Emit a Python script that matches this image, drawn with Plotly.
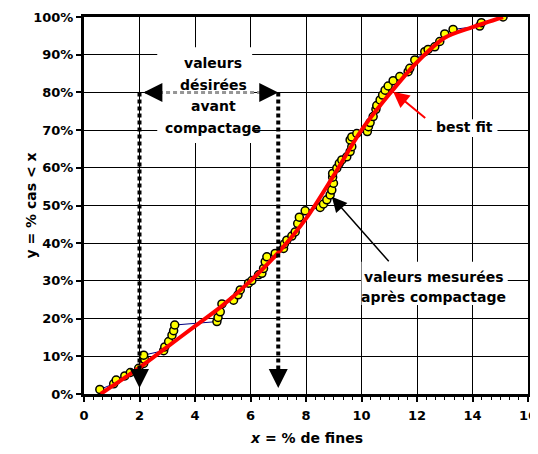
import plotly.graph_objects as go

# Measured values (after compaction): x = % fines, y = cumulative % of cases
meas_x = [0.57, 1.07, 1.16, 1.47, 1.67, 1.97, 2.15, 2.18, 2.15, 2.87, 2.91, 3.05, 3.17, 3.23, 3.27,
          4.79, 4.83, 4.91, 4.97, 5.39, 5.55, 5.63, 5.93, 6.05, 6.29, 6.41, 6.47, 6.53, 6.59, 6.89,
          7.19, 7.22, 7.31, 7.49, 7.61, 7.70, 7.76, 7.97, 8.51, 8.63, 8.75, 8.87, 8.93, 8.99, 8.96,
          8.96, 9.11, 9.20, 9.29, 9.47, 9.59, 9.65, 9.59, 9.65, 9.83, 10.21, 10.25, 10.31, 10.42, 10.52,
          10.55, 10.67, 10.76, 10.85, 10.96, 11.14, 11.38, 11.68, 11.74, 11.92, 12.28, 12.40, 12.64, 12.82,
          13.00, 13.30, 14.26, 14.32, 15.10]
meas_y = [1.2, 2.7, 3.7, 4.8, 5.7, 6.8, 8.1, 9.2, 10.3, 11.5, 12.5, 13.9, 15.6, 16.8, 18.3,
          19.2, 20.3, 21.8, 23.9, 24.9, 26.3, 27.6, 29.4, 30.1, 31.6, 32.0, 33.3, 35.1, 36.4, 37.3,
          38.6, 39.8, 40.8, 41.9, 43.0, 45.2, 46.9, 48.6, 49.5, 50.4, 51.5, 52.8, 54.1, 55.9, 57.5,
          58.5, 59.9, 61.2, 62.1, 62.9, 64.3, 65.6, 67.4, 68.2, 69.1, 69.6, 70.9, 72.0, 73.6, 75.5,
          76.5, 78.0, 79.3, 80.6, 81.7, 83.1, 84.2, 85.5, 86.4, 88.6, 90.8, 91.4, 92.1, 93.5,
          95.5, 96.7, 97.6, 98.5, 100.0]

# Best-fit curve
fit_x = [0.6, 1, 2, 3, 4, 5, 6, 7, 8, 9, 10, 11, 12, 13, 14, 15.1]
fit_y = [0, 2, 7, 12.5, 18, 23.5, 30, 37.5, 46.5, 58, 70, 79.5, 88, 94.5, 97.3, 100]

# Desired values before compaction (range of x)
desired_lo = 2
desired_hi = 7
desired_level = 80

x_ticks = list(range(0, 17, 2))
y_ticks = list(range(0, 101, 10))

FONT = "DejaVu Sans"

fig = go.Figure()

fig.add_trace(go.Scatter(
    x=meas_x, y=meas_y, mode="lines+markers",
    line=dict(color="#000080", width=1),
    marker=dict(size=8, color="#FFFF00", line=dict(color="black", width=1.5)),
    showlegend=False, hoverinfo="skip"))

fig.add_trace(go.Scatter(
    x=fit_x, y=fit_y, mode="lines",
    line=dict(color="#FF0000", width=4, shape="spline", smoothing=0.8),
    showlegend=False, hoverinfo="skip"))

shapes = []
# white boxes behind texts (cover grid lines)
for (x0, x1, y0, y1) in [(2.64, 6.06, 66.6, 92.0), (12.53, 14.9, 68.2, 72.9), (10.0, 15.27, 23.6, 35.1)]:
    shapes.append(dict(type="rect", xref="x", yref="y", x0=x0, x1=x1, y0=y0, y1=y1,
                       fillcolor="white", line=dict(width=0), layer="between"))
# dotted vertical lines
for xv in (desired_lo, desired_hi):
    shapes.append(dict(type="line", xref="x", yref="y", x0=xv, x1=xv, y0=desired_level, y1=5,
                       line=dict(color="black", width=4, dash="4px,3px"), layer="above"))
# gray dotted horizontal line
shapes.append(dict(type="line", xref="x", yref="y", x0=desired_lo + 0.2, x1=desired_hi - 0.1,
                   y0=desired_level, y1=desired_level,
                   line=dict(color="#969696", width=3, dash="4px,3px"), layer="above"))

annotations = []
tf = dict(family=FONT, size=14, color="black")
for txt, ax_, ay_ in [("<b>valeurs</b>", 4.65, 87.7), ("<b>désirées</b>", 4.65, 82.0),
                      ("<b>avant</b>", 4.65, 76.4), ("<b>compactage</b>", 4.65, 70.5),
                      ("<b>best fit</b>", 13.72, 70.7),
                      ("<b>valeurs mesurées</b>", 12.61, 31.0),
                      ("<b>après compactage</b>", 12.61, 25.6)]:
    annotations.append(dict(x=ax_, y=ay_, xref="x", yref="y", text=txt, showarrow=False,
                            font=tf, xanchor="center", yanchor="middle"))

def arrow(x, y, ax, ay, color, width, size):
    return dict(x=x, y=y, ax=ax, ay=ay, xref="x", yref="y", axref="x", ayref="y",
                text="", showarrow=True, arrowhead=2, arrowcolor=color,
                arrowwidth=width, arrowsize=size)

# arrowheads of the dotted arrows
annotations.append(arrow(desired_lo, 1.6, desired_lo, 5.0, "black", 2, 1.9))
annotations.append(arrow(desired_hi, 1.6, desired_hi, 5.0, "black", 2, 1.9))
annotations.append(arrow(desired_lo + 0.14, desired_level, desired_lo + 0.6, desired_level, "black", 2, 1.9))
annotations.append(arrow(desired_hi, desired_level, desired_hi - 0.46, desired_level, "black", 2, 1.9))
# pointer arrows
annotations.append(arrow(11.14, 80.2, 12.35, 72.9, "#FF0000", 2, 1.6))
annotations.append(arrow(8.93, 52.3, 11.03, 34.8, "black", 1.5, 2.0))

# axis titles
annotations.append(dict(xref="paper", yref="paper", x=0.5, y=0, yshift=-44, text="<b><i>x</i> = % de fines</b>",
                        showarrow=False, font=dict(family=FONT, size=14, color="black"),
                        xanchor="center", yanchor="middle"))
annotations.append(dict(xref="paper", yref="paper", x=0, y=0.5, xshift=-54, text="<b>y = % cas &lt; x</b>",
                        textangle=-90, showarrow=False, font=dict(family=FONT, size=14, color="black"),
                        xanchor="center", yanchor="middle"))

# page has an 8px body margin: figure is sized so that the page fits the 538x454 window
fig.update_layout(
    template="none",
    width=530, height=438,
    margin=dict(l=76, r=10, t=9, b=52),
    paper_bgcolor="white", plot_bgcolor="white",
    font=dict(family=FONT, color="black"),
    shapes=shapes, annotations=annotations,
    xaxis=dict(range=[0, 16], tickvals=x_ticks, ticktext=[f"<b>{v}</b>" for v in x_ticks],
               automargin=False, ticklabeloverflow="allow",
               showgrid=True, gridcolor="black", gridwidth=1,
               showline=True, linecolor="black", linewidth=3, mirror=True,
               ticks="outside", ticklen=5, tickwidth=1.5, tickcolor="black",
               ticklabelstandoff=2,
               minor=dict(dtick=2/6, tick0=0, ticks="outside", ticklen=3, tickwidth=1, tickcolor="black", showgrid=False),
               tickfont=dict(family=FONT, size=13),
               zeroline=False),
    yaxis=dict(range=[0, 100], tickvals=y_ticks, ticktext=[f"<b>{v}%</b>" for v in y_ticks],
               automargin=False, ticklabeloverflow="allow",
               showgrid=True, gridcolor="black", gridwidth=1,
               showline=True, linecolor="black", linewidth=3, mirror=True,
               ticks="outside", ticklen=5, tickwidth=1.5, tickcolor="black",
               tickfont=dict(family=FONT, size=13),
               zeroline=False),
)

fig.write_html("out.html")
